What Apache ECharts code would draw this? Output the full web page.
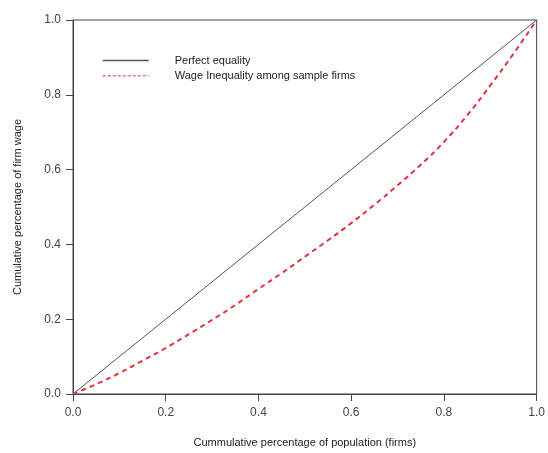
<!DOCTYPE html>
<html><head><meta charset="utf-8">
<script src="https://cdn.jsdelivr.net/npm/echarts@6/dist/echarts.min.js"></script>
<style>html,body{margin:0;padding:0;background:#fff}#c{width:548px;height:453px}</style>
</head><body><div id="c"></div>
<script>
var popShare = [0,0.05,0.1,0.15,0.2,0.25,0.3,0.35,0.4,0.45,0.5,0.55,0.6,0.65,0.7,0.75,0.8,0.85,0.9,0.95,1.0];
var wageShare = [0,0.026,0.056,0.089,0.123,0.16,0.198,0.238,0.281,0.323,0.367,0.411,0.457,0.506,0.558,0.613,0.674,0.745,0.825,0.91,1.0];
var equalityX = [0,1];
var equalityY = [0,1];
var tickLabels = ['0.0','0.2','0.4','0.6','0.8','1.0'];

function pairs(xs, ys){ return xs.map(function(x,i){return [x, ys[i]];}); }

var font = 'Liberation Sans, Arial, sans-serif';
var chart = echarts.init(document.getElementById('c'), null, {renderer:'canvas'});
var axisCommon = {
  type:'value', min:0, max:1, interval:0.2,
  axisLine:{show:true, onZero:false, lineStyle:{color:'#444', width:1}},
  axisTick:{show:true, length:7, lineStyle:{color:'#444'}},
  splitLine:{show:false},
  axisLabel:{color:'#444', fontFamily:font, fontSize:12, formatter:function(v){return tickLabels[Math.round(v*5)];}},
  nameLocation:'middle',
  nameTextStyle:{color:'#222', fontFamily:font, fontSize:11}
};
chart.setOption({
  animation:false,
  backgroundColor:'#fff',
  grid:{left:73, right:10, top:20, bottom:59, show:true, borderColor:'#444', borderWidth:1, backgroundColor:'transparent'},
  xAxis: Object.assign({}, axisCommon, {name:'Cummulative percentage of population (firms)', nameGap:43,
    axisLabel:Object.assign({}, axisCommon.axisLabel, {margin:13})}),
  yAxis: Object.assign({}, axisCommon, {name:'Cumulative percentage of firm wage', nameGap:50,
    axisLabel:Object.assign({}, axisCommon.axisLabel, {margin:12})}),
  legend:{
    show:true, orient:'vertical', left:97, top:50, itemWidth:46, itemHeight:14, itemGap:4,
    itemStyle:{opacity:0},
    textStyle:{fontFamily:font, fontSize:11, color:'#222', padding:[0,0,0,21]},
    data:[
      {name:'Perfect equality', lineStyle:{width:1.5}},
      {name:'Wage Inequality among sample firms', lineStyle:{width:1, type:[3,2]}}
    ]
  },
  series:[
    {name:'Perfect equality', type:'line', data:pairs(equalityX, equalityY), symbol:'none',
     lineStyle:{color:'#555', width:1}, itemStyle:{color:'#555'}},
    {name:'Wage Inequality among sample firms', type:'line', smooth:true, data:pairs(popShare, wageShare), symbol:'none',
     lineStyle:{color:'#e8303c', width:2, type:[5,4]}, itemStyle:{color:'#e8303c'}}
  ]
});
</script></body></html>
